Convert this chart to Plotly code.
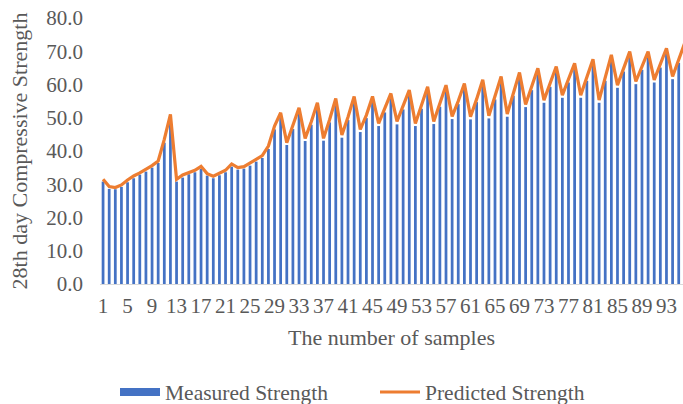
import plotly.graph_objects as go

# Sample numbers and 28-day compressive strengths (MPa)
samples = list(range(1, 97))

measured = [
    30.8, 28.6, 28.5, 29.2, 30.6, 31.8, 32.9, 33.8, 35.0, 36.4, 42.5, 49.8,
    30.8, 32.0, 33.0, 33.6, 34.6, 32.6, 31.8, 32.7, 33.6, 35.3, 34.4, 34.7,
    35.6, 36.8, 37.9, 40.6, 46.5, 50.2, 41.8, 46.6, 51.9, 43.0, 47.9, 53.2,
    43.1, 48.6, 54.6, 44.0, 49.3, 55.2, 45.7, 49.9, 55.1, 47.5, 51.6, 56.1,
    48.0, 52.5, 57.0, 47.5, 52.7, 58.1, 48.1, 53.3, 58.5, 49.6, 54.1, 59.1,
    49.5, 54.7, 60.2, 49.8, 55.5, 61.1, 50.3, 56.6, 62.3, 53.2, 58.3, 63.6,
    54.5, 59.3, 64.1, 56.0, 60.6, 65.1, 56.0, 61.1, 66.3, 54.5, 61.1, 67.5,
    59.0, 63.9, 68.6, 60.1, 64.4, 68.6, 60.6, 65.1, 69.6, 61.6, 66.5, 71.2,
]

predicted = [
    31.5, 29.3, 29.0, 29.8, 31.3, 32.5, 33.4, 34.5, 35.6, 37.0, 43.5, 51.0,
    31.5, 32.8, 33.6, 34.2, 35.4, 33.2, 32.4, 33.3, 34.2, 36.1, 35.0, 35.3,
    36.3, 37.5, 38.6, 41.5, 47.5, 51.5, 42.5, 47.5, 53.0, 43.8, 48.8, 54.5,
    43.8, 49.5, 55.8, 44.8, 50.2, 56.4, 46.5, 50.8, 56.4, 48.3, 52.5, 57.3,
    48.9, 53.4, 58.3, 48.3, 53.6, 59.3, 48.9, 54.2, 59.8, 50.4, 55.0, 60.3,
    50.3, 55.6, 61.4, 50.6, 56.4, 62.4, 51.1, 57.5, 63.6, 54.0, 59.2, 64.9,
    55.3, 60.2, 65.4, 56.8, 61.5, 66.4, 56.8, 62.0, 67.6, 55.3, 62.0, 68.9,
    59.8, 64.8, 69.9, 60.9, 65.3, 69.9, 61.4, 66.0, 70.9, 62.4, 67.4, 72.6,
]

x_ticks = list(range(1, 94, 4))
y_ticks = [0, 10, 20, 30, 40, 50, 60, 70, 80]

BLUE = "#4472C4"
ORANGE = "#ED7D31"
TEXT = "#595959"
FONT = "Liberation Serif"

fig = go.Figure()

fig.add_trace(go.Bar(
    x=samples, y=measured, name="Measured Strength",
    marker=dict(color=BLUE, line=dict(width=0)),
    width=0.45, showlegend=False,
))
# wide blue legend key for the measured series
fig.add_trace(go.Scatter(
    x=[None], y=[None], mode="lines", name="Measured Strength",
    line=dict(color=BLUE, width=8),
))
fig.add_trace(go.Scatter(
    x=samples, y=predicted, mode="lines", name="Predicted Strength",
    line=dict(color=ORANGE, width=3.2),
))

fig.update_layout(
    width=683, height=404,
    margin=dict(l=100, r=0, t=18, b=120),
    paper_bgcolor="white", plot_bgcolor="white",
    font=dict(family=FONT, size=21, color=TEXT),
    legend=dict(
        orientation="h", xref="container", yref="container",
        x=115 / 683, xanchor="left", y=12 / 404, yanchor="middle",
        font=dict(size=21.5, color=TEXT), entrywidth=205,
        itemwidth=40, tracegroupgap=0,
    ),
    xaxis=dict(
        range=[0.5, 95.7], tickmode="array", tickvals=x_ticks,
        ticktext=[str(v) for v in x_ticks], ticks="", showgrid=False,
        showline=True, linecolor="#D9D9D9", linewidth=1,
        tickangle=0, ticklabelstandoff=3,
        tickfont=dict(size=21, color=TEXT),
        title=dict(text="The number of samples", standoff=12,
                   font=dict(size=22, color=TEXT)),
        automargin=False,
    ),
    yaxis=dict(
        range=[0, 80], tickmode="array", tickvals=y_ticks,
        ticktext=[f"{v:.1f}" for v in y_ticks], ticks="", showgrid=False,
        zeroline=False, ticklabelstandoff=16,
        tickfont=dict(size=21, color=TEXT),
        title=dict(text="28th day Compressive Strength", standoff=12,
                   font=dict(size=22, color=TEXT)),
        automargin=False,
    ),
    bargap=0.55,
)

fig.write_html("out.html")
